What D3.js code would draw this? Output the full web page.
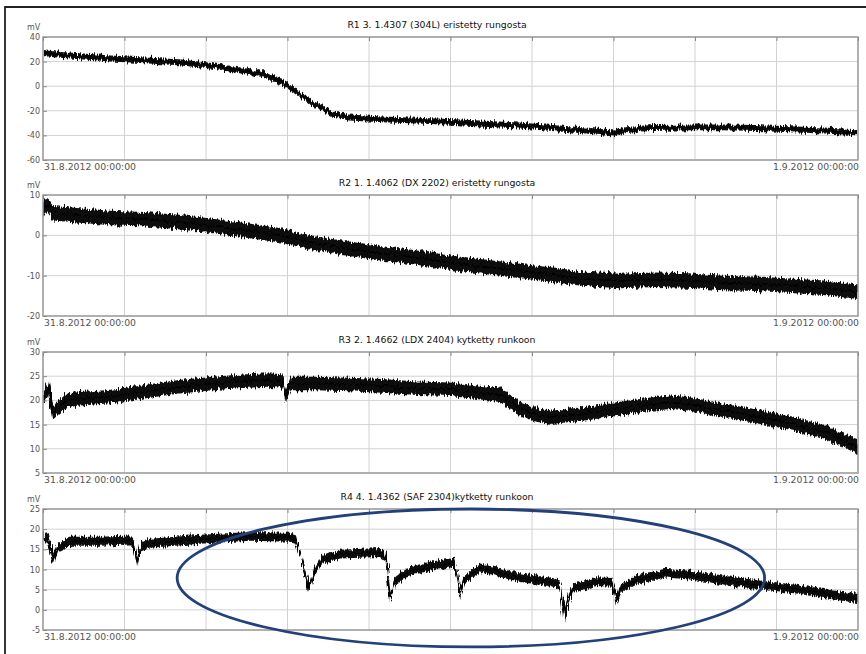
<!DOCTYPE html>
<html>
<head>
<meta charset="utf-8">
<script src="https://cdn.jsdelivr.net/npm/d3@7"></script>
<style>
body { margin: 0; background: #fff; }
svg { display: block; }
text { font-family: "DejaVu Sans", Arial, sans-serif; }
</style>
</head>
<body>
<svg id="chart" width="866" height="654"></svg>
<script>
// ---- data ----
var panelTitles = [
    "R1 3.  1.4307  (304L)  eristetty rungosta",
    "R2 1.  1.4062  (DX 2202)  eristetty rungosta",
    "R3 2.  1.4662  (LDX 2404)   kytketty runkoon",
    "R4 4.  1.4362  (SAF 2304)kytketty runkoon"
];
var unitLabel = "mV";
var startLabel = "31.8.2012 00:00:00";
var endLabel = "1.9.2012 00:00:00";

var yDomains = [[-60, 40], [-20, 10], [5, 30], [-5, 25]];
var yTicks = [
    [40, 20, 0, -20, -40, -60],
    [10, 0, -10, -20],
    [30, 25, 20, 15, 10, 5],
    [25, 20, 15, 10, 5, 0, -5]
];
// vertical grid every 2.4 h over the day
var gridHours = [0, 2.4, 4.8, 7.2, 9.6, 12, 14.4, 16.8, 19.2, 21.6, 24];

// hours after 31.8.2012 00:00 and mV
var r1Hours = [0, 0.5, 1, 2, 3, 4, 5, 6, 6.5, 7, 7.5, 8, 8.5, 9, 10, 11, 12, 13, 14, 15, 16, 16.5, 16.8, 17.1, 17.6, 18, 19, 20, 21, 22, 23, 24];
var r1Values = [27, 25.5, 24.5, 22.5, 21, 19.5, 16.5, 12, 9.5, 4, -5, -15, -22, -25.5, -27, -28, -29, -30.5, -32, -34, -36, -37.5, -38.5, -36, -34.5, -34, -33.5, -33.5, -34, -35, -36, -37.5];

var r2Hours = [0, 0.1, 0.3, 1, 2, 3, 4, 5, 6, 7, 8, 9, 10, 11, 12, 13, 14, 15, 16, 17, 18, 19, 20, 21, 22, 23, 24];
var r2Values = [6, 7.5, 5.5, 5, 4.3, 4, 3.3, 2.3, 1.2, 0, -2, -3.3, -4.5, -5.5, -6.8, -7.8, -8.8, -9.8, -10.8, -11.3, -11, -11.2, -11.8, -12, -12.5, -13, -14];

var r3Hours = [0, 0.15, 0.3, 0.7, 1, 2, 3, 4, 5, 6, 6.6, 7.05, 7.15, 7.3, 8, 9, 10, 11, 12, 13, 13.5, 14, 14.5, 15, 16, 17, 18, 18.5, 19, 20, 21, 22, 23, 24];
var r3Values = [20.5, 22.5, 17.5, 20, 20.3, 20.8, 21.8, 22.8, 23.5, 24, 24.2, 24, 21, 23.5, 23.5, 23.3, 23, 22.5, 22.3, 21.5, 21, 18.5, 17, 16.5, 17.3, 18.3, 19.3, 19.6, 19.3, 18, 16.7, 15.3, 13.5, 10.5];

var r4Hours = [0, 0.15, 0.29, 0.44, 0.8, 1.68, 2.56, 2.68, 2.77, 2.86, 3.15, 4.62, 6.1, 7.27, 7.45, 7.57, 7.74, 7.83, 7.98, 8.22, 8.75, 9.92, 10.1, 10.22, 10.37, 10.72, 11.4, 12.13, 12.2, 12.28, 12.4, 12.87, 13.37, 14.05, 15.02, 15.22, 15.34, 15.46, 15.61, 16.31, 16.76, 16.9, 17.05, 17.49, 18.32, 19.05, 19.85, 21.11, 22.29, 23.17, 24];
var r4Values = [18.5, 17.5, 12.5, 15.5, 17, 17, 17.3, 16, 12, 15.5, 16.5, 17.5, 18.2, 18, 17.5, 14, 8, 4.5, 9, 12.5, 13.8, 14.2, 13, 3, 7, 9.4, 10.8, 11.8, 9, 4, 7.5, 10.4, 9.4, 8, 6.8, 6.2, -2, 2.5, 5.4, 7, 6.8, 2.4, 5.5, 7.4, 9.1, 8.6, 7.6, 6.2, 5, 3.8, 2.8];

// half width of the noise band on each trace (mV)
var noiseBand = [2.4, 1.8, 1.4, 1.1];

// hand drawn ring on the last panel (hours / mV)
var ringHour = 12.6, ringMv = 7.9, ringHourRadius = 8.65, ringMvRadius = 17.1;

var seriesHours = [r1Hours, r2Hours, r3Hours, r4Hours];
var seriesValues = [r1Values, r2Values, r3Values, r4Values];

// ---- layout ----
var plotLeft = 43, plotRight = 858;
var panelTop = [37, 195, 352, 509];
var panelBottom = [160, 316, 473, 630];

var svg = d3.select("#chart");

svg.append("rect").attr("width", 866).attr("height", 654).attr("fill", "#fff");

var defs = svg.append("defs");
var jag = defs.append("filter").attr("id", "jag")
    .attr("x", "-2%").attr("y", "-40%").attr("width", "104%").attr("height", "180%");
jag.append("feTurbulence").attr("type", "fractalNoise")
    .attr("baseFrequency", "0.7 0.05").attr("numOctaves", 2).attr("seed", 4).attr("result", "t");
jag.append("feDisplacementMap").attr("in", "SourceGraphic").attr("in2", "t")
    .attr("scale", 8).attr("xChannelSelector", "A").attr("yChannelSelector", "R");

var x = d3.scaleLinear().domain([0, 24]).range([plotLeft, plotRight]);

function DrawPanel(i) {
    var top = panelTop[i], bottom = panelBottom[i];
    var y = d3.scaleLinear().domain(yDomains[i]).range([bottom, top]);
    var g = svg.append("g").attr("class", "panel");

    defs.append("clipPath").attr("id", "clip" + i)
        .append("rect").attr("x", plotLeft).attr("y", top)
        .attr("width", plotRight - plotLeft).attr("height", bottom - top);

    // grid
    g.append("g").selectAll("line").data(yTicks[i]).enter().append("line")
        .attr("x1", plotLeft).attr("x2", plotRight)
        .attr("y1", function(d) { return y(d); }).attr("y2", function(d) { return y(d); })
        .attr("stroke", "#d2d2d2").attr("stroke-width", 1);
    g.append("g").selectAll("line").data(gridHours).enter().append("line")
        .attr("y1", top).attr("y2", bottom)
        .attr("x1", function(d) { return x(d); }).attr("x2", function(d) { return x(d); })
        .attr("stroke", "#d2d2d2").attr("stroke-width", 1);

    // trace
    var pts = [];
    for (var k = 0; k < seriesHours[i].length; k++) {
        pts.push({h: seriesHours[i][k], v: seriesValues[i][k]});
    }
    var n = noiseBand[i];
    var band = d3.area()
        .x(function(d) { return x(d.h); })
        .y0(function(d) { return y(d.v - n); })
        .y1(function(d) { return y(d.v + n); });
    var line = d3.line()
        .x(function(d) { return x(d.h); })
        .y(function(d) { return y(d.v); });

    var trace = g.append("g").attr("clip-path", "url(#clip" + i + ")")
        .append("g").attr("filter", "url(#jag)");
    trace.append("path").datum(pts).attr("d", band).attr("fill", "#111");
    trace.append("path").datum(pts).attr("d", line)
        .attr("fill", "none").attr("stroke", "#000").attr("stroke-width", 1.8);

    // frame
    g.append("rect").attr("x", plotLeft).attr("y", top)
        .attr("width", plotRight - plotLeft).attr("height", bottom - top)
        .attr("fill", "none").attr("stroke", "#9c9c9c").attr("stroke-width", 1.5);

    // axes
    var yAxis = g.append("g").attr("transform", "translate(" + plotLeft + ",0)")
        .call(d3.axisLeft(y).tickValues(yTicks[i]).tickSize(-4).tickPadding(3)
            .tickFormat(function(d) { return String(d); }));
    var xAxis = g.append("g").attr("transform", "translate(0," + top + ")")
        .call(d3.axisTop(x).tickValues(gridHours).tickSize(-4).tickFormat(""));
    [yAxis, xAxis].forEach(function(a) {
        a.select(".domain").remove();
        a.selectAll(".tick line").attr("stroke", "#8a8a8a");
    });
    yAxis.selectAll(".tick text").attr("fill", "#555").style("font-size", "8px");

    g.append("text").attr("x", 27).attr("y", top - 7)
        .attr("fill", "#555").style("font-size", "8px").text(unitLabel);
    g.append("text").attr("x", 437).attr("y", top - 9).attr("text-anchor", "middle")
        .attr("fill", "#111").style("font-size", "9.3px").text(panelTitles[i]);
    g.append("text").attr("x", plotLeft + 1).attr("y", bottom + 10)
        .attr("fill", "#555").style("font-size", "9.3px").text(startLabel);
    g.append("text").attr("x", plotRight + 1).attr("y", bottom + 10).attr("text-anchor", "end")
        .attr("fill", "#555").style("font-size", "9.3px").text(endLabel);

    return y;
}

var yScales = [];
for (var i = 0; i < 4; i++) {
    yScales.push(DrawPanel(i));
}

// ring around the dips in R4
var y4 = yScales[3];
svg.append("ellipse")
    .attr("cx", x(ringHour)).attr("cy", y4(ringMv))
    .attr("rx", x(ringHour + ringHourRadius) - x(ringHour))
    .attr("ry", y4(ringMv - ringMvRadius) - y4(ringMv))
    .attr("fill", "none").attr("stroke", "#22407a").attr("stroke-width", 2.8);

// outer frame of the screenshot
svg.append("path").attr("d", "M5,654V7H866")
    .attr("fill", "none").attr("stroke", "#222").attr("stroke-width", 1.8);
</script>
</body>
</html>
